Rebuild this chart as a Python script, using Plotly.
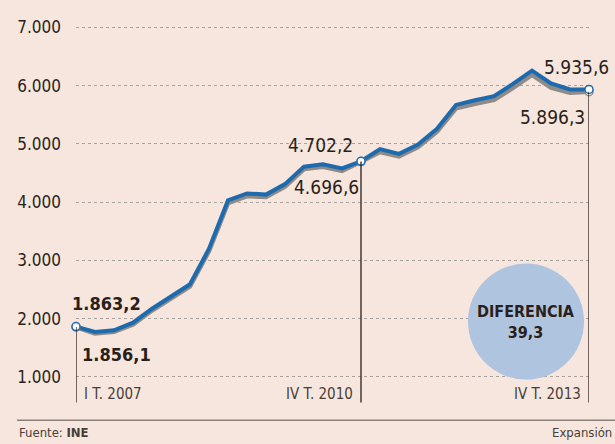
import plotly.graph_objects as go

quarters = [f"{q} T. {y}" for y in range(2007, 2014) for q in ["I", "II", "III", "IV"]]
serie_azul = [1863.2, 1770, 1800, 1930, 2170, 2380, 2590, 3200, 4030, 4150, 4130, 4310,
              4610, 4650, 4580, 4702.2, 4910, 4830, 4990, 5260, 5670, 5750, 5820, 6030,
              6260, 6040, 5935, 5935.6]
serie_gris = [1856.1, 1745, 1775, 1900, 2140, 2345, 2555, 3160, 3985, 4105, 4088, 4268,
              4568, 4608, 4538, 4696.6, 4862, 4785, 4945, 5212, 5612, 5690, 5758, 5962,
              6185, 5968, 5880, 5896.3]
y_ticks = [1000, 2000, 3000, 4000, 5000, 6000, 7000]
y_tick_labels = ["1.000", "2.000", "3.000", "4.000", "5.000", "6.000", "7.000"]
marked = [0, 15, 27]
marked_labels = ["I T. 2007", "IV T. 2010", "IV T. 2013"]
diferencia = "39,3"

BG = "#F6E6DD"
BLUE = "#1D6AAE"
GRAY = "#8E8B89"
DARK = "#2A1F1A"
FONT = "DejaVu Sans Condensed, DejaVu Sans, sans-serif"

fig = go.Figure()
fig.add_trace(go.Scatter(x=quarters, y=serie_gris, mode="lines",
                         line=dict(color=GRAY, width=4.5), hoverinfo="skip", cliponaxis=False))
fig.add_trace(go.Scatter(x=quarters, y=serie_azul, mode="lines",
                         line=dict(color=BLUE, width=4), hoverinfo="skip", cliponaxis=False))

for i in marked:
    fig.add_shape(type="line", xref="x", yref="y", x0=quarters[i], x1=quarters[i],
                  y0=560, y1=serie_gris[i], line=dict(color=DARK, width=1.3), layer="above")

fig.add_trace(go.Scatter(x=[quarters[i] for i in marked], y=[serie_gris[i] for i in marked],
                         mode="markers", marker=dict(size=8, color="white", line=dict(color=GRAY, width=1.5)),
                         hoverinfo="skip", cliponaxis=False))
fig.add_trace(go.Scatter(x=[quarters[i] for i in marked], y=[serie_azul[i] for i in marked],
                         mode="markers", marker=dict(size=8, color="white", line=dict(color=BLUE, width=1.5)),
                         hoverinfo="skip", cliponaxis=False))

def fmt(v):
    s = f"{v:,.1f}"
    return s.replace(",", "X").replace(".", ",").replace("X", ".")

ann = []
cfg = [
    (0, serie_azul, "left", -6, 23, True, 18),
    (0, serie_gris, "left", 4, -27, True, 18),
    (15, serie_azul, "right", -6, 16, False, 19),
    (15, serie_gris, "right", 0, -25, False, 19),
    (27, serie_azul, "right", 22, 22, False, 19),
    (27, serie_gris, "right", -2, -25, False, 19),
]
for i, ser, xa, xs, ys, bold, sz in cfg:
    txt = fmt(ser[i])
    if bold:
        txt = f"<b>{txt}</b>"
    ann.append(dict(x=quarters[i], y=ser[i], xref="x", yref="y", text=txt, showarrow=False,
                    xanchor=xa, yanchor="middle", xshift=xs, yshift=ys,
                    font=dict(family=FONT, size=sz, color=DARK)))
for i, lab in zip(marked, marked_labels):
    xa = "left" if i == 0 else "right"
    xs = 6 if i == 0 else -6
    ann.append(dict(x=quarters[i], y=710, xref="x", yref="y", text=lab, showarrow=False,
                    xanchor=xa, yanchor="middle", xshift=xs,
                    font=dict(family=FONT, size=15, color="#4A3E38")))

fig.add_shape(type="circle", xref="x", yref="y", xsizemode="pixel", ysizemode="pixel",
              xanchor=quarters[24], yanchor=1950, x0=-64, x1=52, y0=-58, y1=58,
              fillcolor="#AFC4DE", line=dict(width=0), layer="above")
ann.append(dict(x=quarters[24], y=1950, xref="x", yref="y", xshift=-6,
                text=f"<b>DIFERENCIA</b><br><b>{diferencia}</b>", showarrow=False,
                font=dict(family=FONT, size=16, color=DARK), align="center"))

fig.add_shape(type="line", xref="paper", yref="paper", x0=-0.115, x1=1.06, y0=-0.036, y1=-0.036,
              line=dict(color="#8A7F79", width=1.5))
ann.append(dict(x=-0.115, y=-0.067, xref="paper", yref="paper", text="Fuente: <b>INE</b>",
                showarrow=False, xanchor="left", yanchor="middle",
                font=dict(family=FONT, size=13, color="#4A3E38")))
ann.append(dict(x=1.049, y=-0.067, xref="paper", yref="paper", text="Expansión",
                showarrow=False, xanchor="right", yanchor="middle",
                font=dict(family=FONT, size=13, color="#4A3E38")))

fig.update_layout(
    width=615, height=444,
    paper_bgcolor=BG, plot_bgcolor=BG,
    margin=dict(l=76, r=26, t=10, b=38, autoexpand=False),
    showlegend=False,
    annotations=ann,
    xaxis=dict(range=[0, 27], showgrid=False, showticklabels=False, zeroline=False,
               showline=False, ticks="", automargin=False),
    yaxis=dict(range=[500, 7300], tickvals=y_ticks, ticktext=y_tick_labels,
               showgrid=True, gridcolor="#A8A29E", griddash="dot", gridwidth=1.2,
               zeroline=False, showline=False, ticks="", ticklabelstandoff=14,
               automargin=False,
               tickfont=dict(family=FONT, size=17, color=DARK)),
)

fig.write_html("out.html", config={"displayModeBar": False},
               post_script="document.body.style.margin='0px';document.body.style.overflow='hidden';")
